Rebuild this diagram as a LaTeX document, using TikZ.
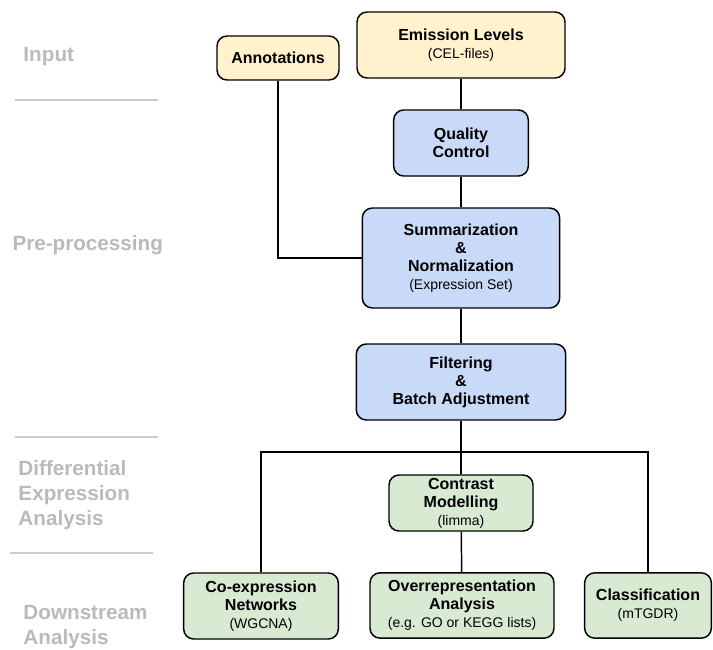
\documentclass[tikz,border=0pt]{standalone}
\usepackage{fontspec}
\setmainfont{Liberation Sans}

\definecolor{inyellow}{RGB}{255,242,204}
\definecolor{ppblue}{RGB}{201,218,248}
\definecolor{dagreen}{RGB}{217,234,211}
\definecolor{stagegray}{RGB}{186,186,186}
\definecolor{rulegray}{RGB}{204,204,204}

\newcommand{\subtxt}[1]{{\fontsize{10.5}{13.5}\selectfont\mdseries #1}}

\tikzset{every picture/.style={line width=0.75pt}}
\tikzset{
	box/.style={draw=black, line width=1.1pt, rounded corners=7.5pt, align=center, inner sep=2pt,
		font=\fontsize{12}{13.5}\selectfont\bfseries},
	inbox/.style={box, fill=inyellow},
	ppbox/.style={box, fill=ppblue},
	dabox/.style={box, fill=dagreen},
	stage/.style={anchor=west, align=left, inner sep=0pt, text=stagegray,
		font=\fontsize{15.5}{18.75}\selectfont\bfseries},
	stagerule/.style={draw=rulegray, line width=0.9pt},
	link/.style={draw=black, line width=1.1pt}
}

\begin{document}
\begin{tikzpicture}[x=0.75pt,y=0.75pt,yscale=-1,xscale=1]
	\useasboundingbox (0,0) rectangle (713,649);

	% Stage labels
	\node[stage] (lblin) at (23,57) {Input};
	\node[stage] (lblpre) at (12,245) {Pre-processing};
	\node[stage] (lbldiff) at (18,495) {Differential\\Expression\\Analysis};
	\node[stage] (lbldown) at (23,627.5) {Downstream\\Analysis};

	% Stage separators
	\draw[stagerule] (15,100) -- (158,100);
	\draw[stagerule] (15,437) -- (158,437);
	\draw[stagerule] (10,553) -- (153,553);

	% Input
	\node[inbox, minimum width=91.5pt, minimum height=33pt] (annot) at (278,58) {Annotations};
	\node[inbox, minimum width=156pt, minimum height=49.5pt] (emis) at (461,45) {Emission Levels\\\subtxt{(CEL-files)}};

	% Pre-processing
	\node[ppbox, minimum width=101pt, minimum height=49.5pt] (qc) at (461,143) {Quality\\Control};
	\node[ppbox, minimum width=148pt, minimum height=75pt] (summ) at (461,258) {Summarization\\\&\\Normalization\\\subtxt{(Expression Set)}};
	\node[ppbox, minimum width=157pt, minimum height=57pt] (filt) at (461,382) {Filtering\\\&\\Batch Adjustment};

	% Differential expression
	\node[dabox, minimum width=108pt, minimum height=42pt] (contr) at (461,503) {Contrast\\Modelling\\\subtxt{(limma)}};

	% Downstream
	\node[dabox, minimum width=116pt, minimum height=49.5pt] (coex) at (261,606) {Co-expression\\Networks\\\subtxt{(WGCNA)}};
	\node[dabox, minimum width=138pt, minimum height=49pt] (overrep) at (462,605.5) {Overrepresentation\\Analysis\\\subtxt{(e.g. GO or KEGG lists)}};
	\node[dabox, minimum width=95pt, minimum height=49pt] (class) at (648,605.5) {Classification\\\subtxt{(mTGDR)}};

	% Connectors
	\draw[link] (emis) -- (qc);
	\draw[link] (qc) -- (summ);
	\draw[link] (annot) |- (summ);
	\draw[link] (summ) -- (filt);
	\draw[link] (filt) -- (contr);
	\coordinate (bus) at (461,452);
	\draw[link] (coex.north) |- (bus) -| (class.north);
	\draw[link] (contr) -- (overrep);

\end{tikzpicture}
\end{document}
